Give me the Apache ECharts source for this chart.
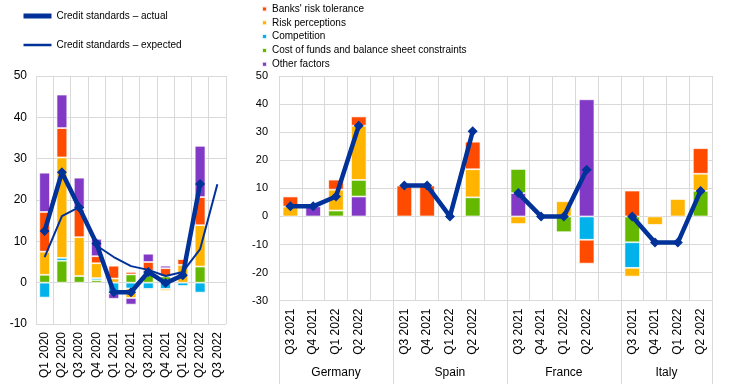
<!DOCTYPE html>
<html>
<head>
<meta charset="utf-8">
<script src="https://cdn.jsdelivr.net/npm/echarts@6/dist/echarts.min.js"></script>
<style>
html,body{margin:0;padding:0;background:#fff;}
#c{width:744px;height:384px;}
</style>
</head>
<body>
<div id="c"></div>
<script>
// ---- data ----
const leftCats = ['Q1 2020','Q2 2020','Q3 2020','Q4 2020','Q1 2021','Q2 2021','Q3 2021','Q4 2021','Q1 2022','Q2 2022','Q3 2022'];
const leftCost    = [1.9, 5.3, 1.6, 0.6, null, 2.0, 2.8, 1.5, null, 3.9, null];
const leftComp    = [-3.6, 0.7, null, 0.5, -2.6, -1.4, -1.5, -1.5, -0.8, -2.4, null];
const leftRisk    = [5.6, 24.3, 9.4, 3.6, 1.0, -2.3, -0.3, -0.5, 4.3, 10.0, null];
const leftTol     = [9.6, 7.1, 6.8, 1.7, 3.1, 0.6, 2.2, 2.0, 1.4, 6.8, null];
const leftOther   = [9.5, 8.1, 7.6, 4.2, -1.3, -1.6, 2.0, 0.6, null, 12.4, null];
const leftActual  = [12.5, 26.7, 18.2, 9.5, -2.3, -2.3, 2.6, -0.1, 1.8, 23.9, null];
const leftExpected= [6.2, 16.1, 18.3, 9.0, 6.2, 4.0, 3.1, 1.6, 2.6, 8.1, 23.8];

const rightCats = ['Q3 2021','Q4 2021','Q1 2022','Q2 2022','',
                   'Q3 2021','Q4 2021','Q1 2022','Q2 2022','',
                   'Q3 2021','Q4 2021','Q1 2022','Q2 2022','',
                   'Q3 2021','Q4 2021','Q1 2022','Q2 2022'];
const countries = ['Germany','Spain','France','Italy'];
const rightOther = [null, 3.6, null, 7.1, null,  null, null, null, null, null,  8.3, null, null, 41.7, null,  null, null, null, null];
const rightCost  = [null, null, 2.1, 5.9, null,  null, null, null, 6.8, null,  8.6, null, -5.6, null, null,  -9.2, null, null, 9.1];
const rightComp  = [null, null, null, null, null, null, null, null, null, null, null, null, null, -8.3, null, -9.1, null, null, null];
const rightRisk  = [3.5, null, 7.4, 19.3, null,  null, null, null, 10.0, null, -2.7, null, 5.4, null, null,  -3.1, -3.0, 6.2, 6.1];
const rightTol   = [3.6, null, 3.6, 3.3, null,   11.0, 11.0, null, 9.8, null,  null, null, null, -8.5, null,  9.2, null, null, 9.1];
const rightActual= [3.6, 3.6, 7.1, 32.3, null,  11.0, 11.0, 0, 30.3, null,  8.3, 0, 0, 16.6, null,  0, -9.3, -9.3, 9.1];

// ---- names / colours ----
const N = {
  tol: "Banks' risk tolerance",
  risk: 'Risk perceptions',
  comp: 'Competition',
  cost: 'Cost of funds and balance sheet constraints',
  other: 'Other factors',
  act: 'Credit standards \u2013 actual',
  exp: 'Credit standards \u2013 expected'
};
const C = {tol:'#ff4b00', risk:'#ffb400', comp:'#00b1ea', cost:'#65b800', other:'#8139c6', line:'#003299'};

// group label positions derived from blank separators in rightCats
const bounds = [0];
rightCats.forEach((c,i)=>{ if(c==='') bounds.push(i+1); });
bounds.push(rightCats.length);
const centers = [];
for(let i=0;i<bounds.length-1;i++) centers.push((bounds[i]+bounds[i+1])/2);

const FONT = 'Liberation Sans, Arial, sans-serif';
const grid = '#d9d9d9';

function bar(name, data, xi, yi, col, w){
  return {type:'bar', name, data, xAxisIndex:xi, yAxisIndex:yi, stack:'s'+xi, barWidth:w,
    itemStyle:{color:col, borderColor:'rgba(255,255,255,0.85)', borderWidth:0.8}, animation:false};
}

const chart = echarts.init(document.getElementById('c'), null, {renderer:'canvas'});
chart.setOption({
  animation:false,
  textStyle:{fontFamily:FONT, color:'#000'},
  legend:[
    {orient:'vertical', left:21, top:11, padding:0, itemWidth:28, itemHeight:12, itemGap:19,
     data:[
       {name:N.act, itemStyle:{opacity:0}, lineStyle:{width:5, color:C.line}},
       {name:N.exp, itemStyle:{opacity:0}, lineStyle:{width:2.5, color:C.line}}
     ],
     textStyle:{fontFamily:FONT, fontSize:10, color:'#000'}, selectedMode:false},
    {orient:'vertical', left:261, top:3, padding:0, icon:'rect', itemWidth:5, itemHeight:5, itemGap:1.8,
     data:[N.tol, N.risk, N.comp, N.cost, N.other],
     textStyle:{fontFamily:FONT, fontSize:10, lineHeight:12, color:'#000'}, selectedMode:false}
  ],
  grid:[
    {left:36, right:518, top:76, bottom:60},
    {left:279, right:32, top:76, bottom:83.3}
  ],
  xAxis:[
    {type:'category', gridIndex:0, data:leftCats, axisLine:{show:false}, axisTick:{show:false},
     splitLine:{show:true, interval:0, lineStyle:{color:grid}},
     axisLabel:{rotate:90, interval:0, margin:8, fontSize:12, color:'#000', fontFamily:FONT}},
    {type:'category', gridIndex:1, data:rightCats, axisLine:{show:false}, axisTick:{show:false},
     splitLine:{show:true, interval:0, lineStyle:{color:grid}},
     axisLabel:{rotate:90, interval:0, margin:8, fontSize:12, color:'#000', fontFamily:FONT}},
    {type:'value', gridIndex:1, min:0, max:rightCats.length, position:'bottom',
     axisLine:{show:false}, splitLine:{show:false},
     axisTick:{show:true, customValues:bounds, length:84, lineStyle:{color:grid}},
     axisLabel:{customValues:centers, margin:66, fontSize:12, color:'#000', fontFamily:FONT,
       formatter:(v)=>{ const k=centers.indexOf(v); return k>=0?countries[k]:''; }}}
  ],
  yAxis:[
    {type:'value', gridIndex:0, min:-10, max:50, interval:10, axisLine:{show:false}, axisTick:{show:false},
     splitLine:{lineStyle:{color:grid}}, axisLabel:{margin:9, fontSize:12, color:'#000'}},
    {type:'value', gridIndex:1, min:-30, max:50, interval:10, axisLine:{show:false}, axisTick:{show:false},
     splitLine:{lineStyle:{color:grid}}, axisLabel:{margin:11, fontSize:11, color:'#000'}}
  ],
  series:[
    bar(N.cost, leftCost, 0, 0, C.cost, '62%'),
    bar(N.comp, leftComp, 0, 0, C.comp, '62%'),
    bar(N.risk, leftRisk, 0, 0, C.risk, '62%'),
    bar(N.tol, leftTol, 0, 0, C.tol, '62%'),
    bar(N.other, leftOther, 0, 0, C.other, '62%'),
    bar(N.other, rightOther, 1, 1, C.other, '68%'),
    bar(N.cost, rightCost, 1, 1, C.cost, '68%'),
    bar(N.comp, rightComp, 1, 1, C.comp, '68%'),
    bar(N.risk, rightRisk, 1, 1, C.risk, '68%'),
    bar(N.tol, rightTol, 1, 1, C.tol, '68%'),
    {type:'line', name:N.exp, data:leftExpected, xAxisIndex:0, yAxisIndex:0, symbol:'none',
     lineStyle:{color:C.line, width:2}, itemStyle:{color:C.line}, z:4},
    {type:'line', name:N.act, data:leftActual, xAxisIndex:0, yAxisIndex:0, symbol:'diamond', symbolSize:10,
     lineStyle:{color:C.line, width:4.5}, itemStyle:{color:C.line}, z:5},
    {type:'line', name:N.act, data:rightActual, xAxisIndex:1, yAxisIndex:1, symbol:'diamond', symbolSize:10,
     connectNulls:false, lineStyle:{color:C.line, width:4.5}, itemStyle:{color:C.line}, z:5}
  ]
});
</script>
</body>
</html>
